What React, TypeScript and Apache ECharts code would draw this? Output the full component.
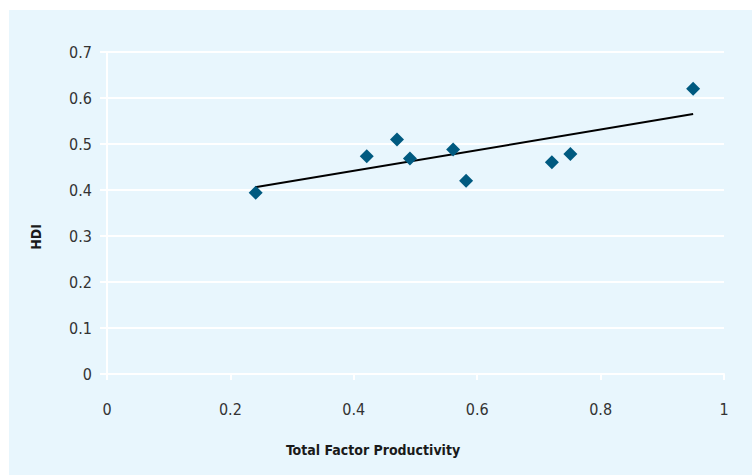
import React, { useEffect, useRef } from "react";
import * as echarts from "echarts";

const tfp = [0.241, 0.421, 0.47, 0.491, 0.561, 0.582, 0.721, 0.751, 0.95];
const hdi = [0.394, 0.4735, 0.51, 0.4685, 0.488, 0.42, 0.4605, 0.478, 0.62];
const trendX = [0.24, 0.95];
const trendY = [0.406, 0.565];
const xTitle = "Total Factor Productivity";
const yTitle = "HDI";

const FONT = "'Liberation Sans Narrow', 'DejaVu Sans Condensed', sans-serif";

export default function App() {
  const ref = useRef<HTMLDivElement>(null);
  useEffect(() => {
    document.body.style.margin = "0";
    const chart = echarts.init(ref.current!, null, { renderer: "svg" });
    chart.setOption({
      animation: false,
      backgroundColor: "#ffffff",
      graphic: [
        {
          type: "rect",
          shape: { x: 9, y: 10, width: 752 - 9, height: 475 - 10 },
          style: { fill: "#e8f6fd" },
          z: -10,
          silent: true,
        },
        {
          type: "text",
          x: 373,
          y: 450,
          style: {
            text: xTitle,
            fontFamily: FONT,
            fontSize: 14,
            fontWeight: "bold",
            fill: "#1a1a1a",
            align: "center",
            verticalAlign: "middle",
          },
        },
        {
          type: "text",
          x: 36,
          y: 237,
          rotation: Math.PI / 2,
          style: {
            text: yTitle,
            fontFamily: FONT,
            fontSize: 14,
            fontWeight: "bold",
            fill: "#1a1a1a",
            align: "center",
            verticalAlign: "middle",
          },
        },
      ],
      grid: { left: 107, right: 28, top: 52, bottom: 101, containLabel: false },
      xAxis: {
        type: "value",
        min: 0,
        max: 1,
        interval: 0.2,
        axisLine: { show: true, lineStyle: { color: "#ffffff", width: 2 } },
        axisTick: { show: true, length: 6, lineStyle: { color: "#ffffff", width: 2 } },
        axisLabel: { fontFamily: FONT, fontSize: 16, color: "#333333", margin: 27 },
        splitLine: { show: false },
      },
      yAxis: {
        type: "value",
        min: 0,
        max: 0.7,
        interval: 0.1,
        axisLine: { show: true, lineStyle: { color: "#ffffff", width: 2 } },
        axisTick: { show: true, length: 7, lineStyle: { color: "#ffffff", width: 2 } },
        axisLabel: { fontFamily: FONT, fontSize: 16, color: "#333333", margin: 15 },
        splitLine: { show: true, lineStyle: { color: "#ffffff", width: 2 } },
      },
      series: [
        {
          type: "line",
          data: trendX.map((x, i) => [x, trendY[i]]),
          showSymbol: false,
          symbol: "none",
          lineStyle: { color: "#000000", width: 2 },
          z: 2,
        },
        {
          type: "scatter",
          data: tfp.map((x, i) => [x, hdi[i]]),
          symbol: "diamond",
          symbolSize: 14,
          itemStyle: { color: "#005a80", opacity: 1 },
          z: 3,
        },
      ],
    });
    return () => chart.dispose();
  }, []);
  return <div ref={ref} style={{ width: 752, height: 475 }} />;
}
